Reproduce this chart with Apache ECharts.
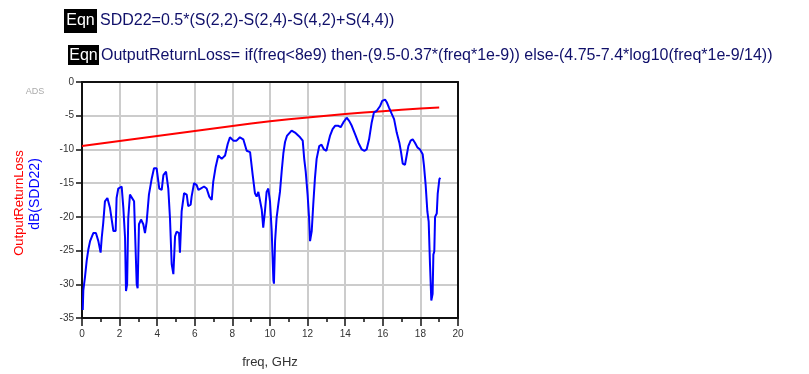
<!DOCTYPE html>
<html>
<head>
<meta charset="utf-8">
<script src="https://cdn.jsdelivr.net/npm/echarts@6/dist/echarts.min.js"></script>
<style>
html,body{margin:0;padding:0;background:#fff;}
#chart{width:809px;height:374px;}
</style>
</head>
<body>
<div id="chart"></div>
<script>
// Blue trace: dB(SDD22) vs freq (GHz)
var sddFreq = [0.04,0.07,0.16,0.25,0.34,0.43,0.6,0.74,0.87,0.99,1.05,1.13,1.22,1.35,1.49,1.58,1.67,1.79,1.84,1.93,2.11,2.2,2.29,2.34,2.4,2.46,2.55,2.64,2.77,2.82,2.91,2.96,3.03,3.14,3.26,3.35,3.44,3.56,3.71,3.83,3.97,4.11,4.24,4.33,4.47,4.59,4.68,4.77,4.86,4.95,5.03,5.16,5.21,5.3,5.43,5.57,5.65,5.78,5.83,5.96,6.1,6.19,6.31,6.49,6.63,6.77,6.9,6.98,7.11,7.25,7.43,7.61,7.75,7.87,8.05,8.22,8.4,8.58,8.76,8.94,9.08,9.2,9.29,9.38,9.47,9.56,9.64,9.73,9.82,9.91,10.0,10.09,10.18,10.21,10.27,10.35,10.44,10.53,10.62,10.71,10.8,10.9,11.15,11.33,11.6,11.74,11.82,11.9,12.0,12.08,12.13,12.22,12.3,12.39,12.48,12.62,12.74,12.87,13.0,13.1,13.19,13.33,13.46,13.64,13.76,13.9,14.08,14.22,14.35,14.52,14.7,14.88,15.02,15.14,15.27,15.41,15.53,15.67,15.85,15.97,16.12,16.21,16.33,16.47,16.6,16.74,16.88,16.97,17.06,17.18,17.27,17.36,17.48,17.59,17.71,17.84,17.98,18.12,18.19,18.28,18.37,18.44,18.51,18.58,18.65,18.69,18.74,18.78,18.87,18.92,19.01,19.06];
var sddDb = [-33.8,-30.9,-28.9,-26.5,-24.8,-23.6,-22.4,-22.4,-23.6,-25.3,-23.1,-20.9,-17.7,-17.2,-18.7,-20.4,-22.1,-22.1,-17.2,-15.8,-15.5,-18.7,-23.1,-31.0,-30.0,-20.2,-16.7,-16.7,-17.7,-22.1,-30.0,-30.6,-21.1,-20.4,-21.1,-22.4,-20.7,-16.7,-14.3,-12.8,-12.8,-15.8,-16.0,-13.8,-13.3,-15.8,-20.2,-27.0,-28.5,-22.9,-22.2,-22.4,-25.3,-19.2,-16.5,-16.7,-18.4,-18.2,-17.0,-15.0,-15.3,-16.0,-15.8,-15.5,-15.8,-17.0,-17.5,-14.8,-12.6,-10.9,-11.4,-10.9,-9.2,-8.2,-8.7,-8.7,-8.2,-8.5,-10.2,-10.4,-13.8,-16.5,-17.0,-16.3,-16.5,-18.9,-21.6,-19.2,-16.3,-15.8,-17.7,-22.1,-29.4,-29.9,-23.6,-20.2,-18.2,-16.3,-13.3,-10.6,-8.9,-8.0,-7.2,-7.5,-8.2,-8.7,-11.4,-13.3,-16.7,-20.2,-23.6,-22.1,-18.2,-14.3,-11.4,-9.5,-9.3,-10.0,-10.2,-9.0,-8.0,-7.0,-6.5,-6.5,-6.7,-6.0,-5.3,-5.8,-6.5,-7.7,-9.0,-10.0,-10.2,-10.0,-8.5,-6.0,-4.5,-4.3,-3.6,-2.8,-2.6,-3.0,-3.8,-4.7,-5.5,-7.5,-9.0,-10.4,-12.1,-12.3,-10.9,-9.5,-8.7,-8.5,-9.0,-9.7,-10.0,-10.7,-12.4,-15.3,-19.2,-20.7,-27.0,-32.4,-31.4,-25.6,-25.1,-20.0,-19.5,-16.6,-14.4,-14.2];
// Red trace: OutputReturnLoss limit vs freq (GHz)
var limitFreq = [0,1,2,3,4,5,6,7,8,9,10,11,12,13,14,15,16,17,18,19];
var limitDb = [-9.5,-9.13,-8.76,-8.39,-8.02,-7.65,-7.28,-6.91,-6.54,-6.17,-5.83,-5.53,-5.25,-4.99,-4.75,-4.53,-4.32,-4.13,-3.94,-3.77];
// Axis ticks
var xTicks = [0,2,4,6,8,10,12,14,16,18,20];
var yTicks = [-35,-30,-25,-20,-15,-10,-5,0];

var eqn1 = 'SDD22=0.5*(S(2,2)-S(2,4)-S(4,2)+S(4,4))';
var eqn2 = 'OutputReturnLoss= if(freq<8e9) then-(9.5-0.37*(freq*1e-9)) else-(4.75-7.4*log10(freq*1e-9/14))';

function pairs(xs, ys){ return xs.map(function(x,i){return [x, ys[i]];}); }

var FONT = '"Liberation Sans", Arial, sans-serif';
var chart = echarts.init(document.getElementById('chart'), null, {renderer:'canvas'});
chart.setOption({
  animation: false,
  backgroundColor: '#fff',
  grid: {left: 82, right: 351, top: 82, bottom: 51, containLabel: false},
  xAxis: [{
    type: 'value', min: xTicks[0], max: xTicks[xTicks.length-1], interval: 2,
    axisLine: {show: true, onZero: false, lineStyle: {color: '#111', width: 2}},
    axisTick: {show: true, inside: false, length: 8, lineStyle: {color: '#111', width: 1.5}},
    minorTick: {show: true, splitNumber: 2, length: 4, lineStyle: {color: '#111', width: 1.5}},
    axisLabel: {color: '#333', fontSize: 10, fontFamily: FONT, margin: 11},
    splitLine: {show: true, lineStyle: {color: '#cccccc', width: 2}},
    name: 'freq, GHz', nameLocation: 'middle', nameGap: 38,
    nameTextStyle: {color: '#333', fontSize: 13, fontFamily: FONT}
  }, {
    type: 'value', position: 'top', min: xTicks[0], max: xTicks[xTicks.length-1], interval: 2,
    axisLine: {show: true, onZero: false, lineStyle: {color: '#111', width: 2}},
    axisTick: {show: false}, axisLabel: {show: false}, splitLine: {show: false}
  }],
  yAxis: [{
    type: 'value', min: yTicks[0], max: yTicks[yTicks.length-1], interval: 5,
    axisLine: {show: true, onZero: false, lineStyle: {color: '#111', width: 2}},
    axisTick: {show: true, inside: false, length: 6, lineStyle: {color: '#111', width: 1.5}},
    axisLabel: {color: '#333', fontSize: 10, fontFamily: FONT, margin: 8},
    splitLine: {show: true, lineStyle: {color: '#cccccc', width: 2}}
  }, {
    type: 'value', position: 'right', min: yTicks[0], max: yTicks[yTicks.length-1], interval: 5,
    axisLine: {show: true, onZero: false, lineStyle: {color: '#111', width: 2}},
    axisTick: {show: false}, axisLabel: {show: false}, splitLine: {show: false}
  }],
  series: [{
    name: 'OutputReturnLoss', type: 'line', data: pairs(limitFreq, limitDb),
    showSymbol: false, lineStyle: {color: '#ff0000', width: 2}, z: 3
  }, {
    name: 'dB(SDD22)', type: 'line', data: pairs(sddFreq, sddDb),
    showSymbol: false, lineStyle: {color: '#0000ff', width: 2}, z: 4
  }],
  graphic: [
    {type: 'rect', shape: {x: 64, y: 9, width: 33, height: 24}, style: {fill: '#000'}},
    {type: 'text', x: 80.5, y: 21, style: {text: 'Eqn', fill: '#fff', font: '16px ' + FONT, textAlign: 'center', textVerticalAlign: 'middle'}},
    {type: 'text', x: 100, y: 21, style: {text: eqn1, fill: '#10106a', font: '16px ' + FONT, textAlign: 'left', textVerticalAlign: 'middle'}},
    {type: 'rect', shape: {x: 68, y: 45, width: 31, height: 20}, style: {fill: '#000'}},
    {type: 'text', x: 83.5, y: 55.5, style: {text: 'Eqn', fill: '#fff', font: '16px ' + FONT, textAlign: 'center', textVerticalAlign: 'middle'}},
    {type: 'text', x: 101, y: 55.5, style: {text: eqn2, fill: '#10106a', font: '16px ' + FONT, textAlign: 'left', textVerticalAlign: 'middle'}},
    {type: 'text', x: 35, y: 92, style: {text: 'ADS', fill: '#aaaaaa', font: '9px ' + FONT, textAlign: 'center', textVerticalAlign: 'middle'}},
    {type: 'text', x: 19, y: 203, rotation: Math.PI/2, style: {text: 'OutputReturnLoss', fill: '#ff0000', font: '13px ' + FONT, textAlign: 'center', textVerticalAlign: 'middle'}},
    {type: 'text', x: 35, y: 194, rotation: Math.PI/2, style: {text: 'dB(SDD22)', fill: '#0000ff', font: '14px ' + FONT, textAlign: 'center', textVerticalAlign: 'middle'}}
  ]
});
</script>
</body>
</html>
